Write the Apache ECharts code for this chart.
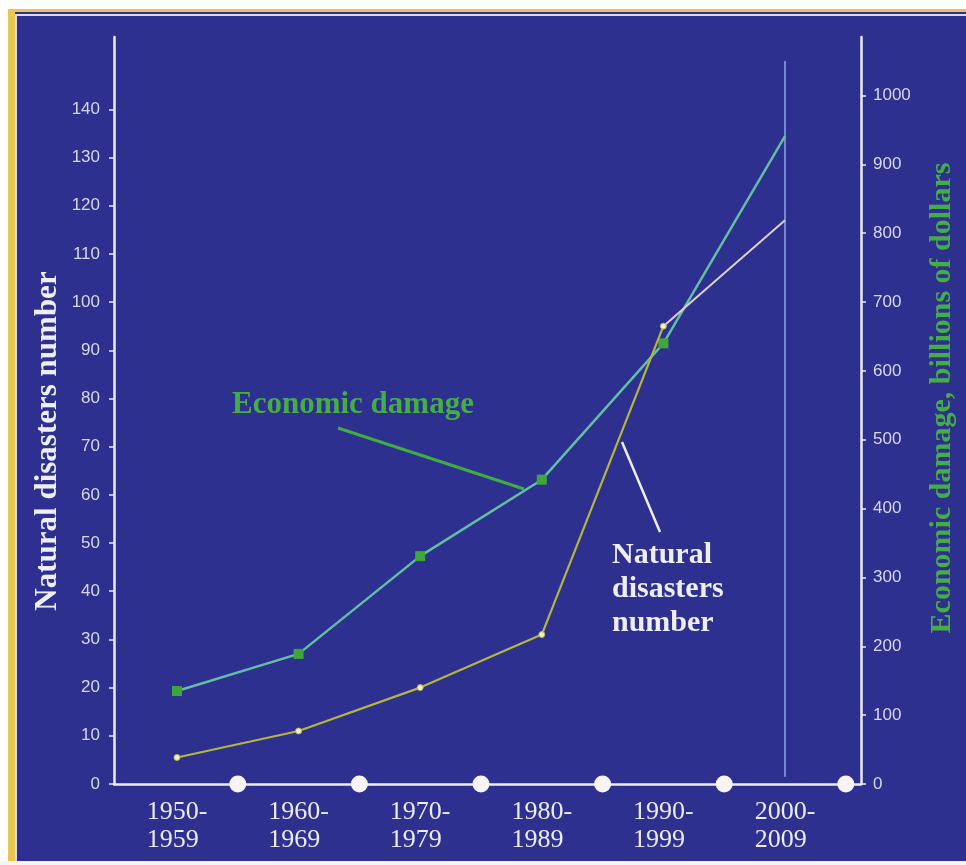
<!DOCTYPE html>
<html>
<head>
<meta charset="utf-8">
<script src="https://cdn.jsdelivr.net/npm/echarts@6/dist/echarts.min.js"></script>
<style>html,body{margin:0;padding:0;background:#fff}#c{width:966px;height:865px}</style>
</head>
<body>
<div id="c"></div>
<script>
// ---- data ----
var decades = ['1950-\n1959', '1960-\n1969', '1970-\n1979', '1980-\n1989', '1990-\n1999', '2000-\n2009'];
var disastersNumber = [5.5, 11, 20, 31, 95, 117];          // left axis
var economicDamage = [135, 189, 331, 442, 640, 941];       // right axis, billions of dollars
var leftTicks = [0, 10, 20, 30, 40, 50, 60, 70, 80, 90, 100, 110, 120, 130, 140];
var rightTicks = [0, 100, 200, 300, 400, 500, 600, 700, 800, 900, 1000];

var idx = decades.map(function (d, i) { return i; });
var serif = '"Liberation Serif", "Times New Roman", serif';
var sans = '"Liberation Sans", Arial, sans-serif';
var lastI = idx.length - 1;

var disasterPts = disastersNumber.map(function (v, i) { return [i, v]; });

var chart = echarts.init(document.getElementById('c'), null, { renderer: 'canvas' });

var option = {
  backgroundColor: '#2e3090',
  animation: false,
  grid: { left: 114, right: 105, top: 37, bottom: 81 },
  xAxis: {
    type: 'value',
    min: -0.518,
    max: 5.625,
    splitLine: { show: false },
    axisLine: { show: true, onZero: false, lineStyle: { color: '#ececf4', width: 2.5 } },
    axisTick: { show: false },
    axisLabel: {
      customValues: idx,
      margin: 14,
      formatter: function (v) {
        var parts = decades[Math.round(v)].split('\n');
        return '{a|' + parts[0] + '}\n{a|' + parts[1] + '}';
      },
      rich: {
        a: { fontFamily: serif, fontSize: 26, color: '#ececf0', lineHeight: 28, align: 'left' }
      }
    }
  },
  yAxis: [
    {
      type: 'value', min: 0, max: 155, position: 'left',
      splitLine: { show: false },
      axisLine: { show: true, onZero: false, lineStyle: { color: '#ececf4', width: 2.5 } },
      axisTick: { show: true, customValues: leftTicks, length: 5, lineStyle: { color: '#ececf4', width: 1.5 } },
      axisLabel: { customValues: leftTicks, color: '#d8d8ea', fontFamily: sans, fontSize: 17, margin: 14,
        formatter: function (v) { return String(v); } }
    },
    {
      type: 'value', min: 0, max: 1085, position: 'right',
      splitLine: { show: false },
      axisLine: { show: true, onZero: false, lineStyle: { color: '#ececf4', width: 2.5 } },
      axisTick: { show: true, customValues: rightTicks, length: 5, lineStyle: { color: '#ececf4', width: 1.5 } },
      axisLabel: { customValues: rightTicks, color: '#d8d8ea', fontFamily: sans, fontSize: 17, margin: 12,
        formatter: function (v) { return String(v); } }
    }
  ],
  series: [
    {
      name: 'Economic damage',
      type: 'line',
      yAxisIndex: 1,
      data: economicDamage.map(function (v, i) { return [i, v]; }),
      symbol: function (value, params) { return params.dataIndex === lastI ? 'none' : 'rect'; },
      symbolSize: 10,
      itemStyle: { color: '#3fa63c' },
      lineStyle: { color: '#62bea2', width: 2.5 },
      z: 3
    },
    {
      name: 'Natural disasters number',
      type: 'line',
      yAxisIndex: 0,
      data: disasterPts.slice(0, lastI),
      symbol: 'circle',
      symbolSize: 6,
      itemStyle: { color: '#f2eed6', borderColor: '#b3b63c', borderWidth: 1 },
      lineStyle: { color: '#b3b63c', width: 2.2 },
      z: 4
    },
    {
      name: 'Natural disasters number (last decade)',
      type: 'line',
      yAxisIndex: 0,
      data: disasterPts.slice(lastI - 1),
      showSymbol: false,
      symbol: 'none',
      lineStyle: { color: '#dcd2cc', width: 2 },
      z: 3
    },
    {
      name: 'boundaries',
      type: 'scatter',
      yAxisIndex: 0,
      data: idx.map(function (i) { return [i + 0.5, 0]; }),
      symbol: 'circle',
      symbolSize: 17,
      clip: false,
      itemStyle: { color: '#f6f4f4', opacity: 1 },
      z: 5
    },
    {
      name: 'last decade marker',
      type: 'line',
      yAxisIndex: 0,
      data: [[lastI, 1.5], [lastI, 150]],
      symbol: 'none',
      lineStyle: { color: '#8ea8ec', width: 1.5 },
      z: 2
    }
  ],
  graphic: [
    // scan frame
    { type: 'rect', shape: { x: 0, y: 0, width: 966, height: 9 }, style: { fill: '#ffffff' }, z: 100 },
    { type: 'rect', shape: { x: 0, y: 0, width: 8, height: 865 }, style: { fill: '#ffffff' }, z: 100 },
    { type: 'rect', shape: { x: 0, y: 861, width: 966, height: 4 }, style: { fill: '#f4f4f4' }, z: 100 },
    { type: 'rect', shape: { x: 8, y: 9, width: 958, height: 3 }, style: { fill: '#e6c35a' }, z: 100 },
    { type: 'rect', shape: { x: 8, y: 9, width: 7, height: 852 }, style: { fill: '#ebc552' }, z: 100 },
    { type: 'polyline', shape: { points: [[16, 861], [16, 15], [966, 15]] }, style: { stroke: '#d8daf0', lineWidth: 2, fill: null }, z: 100 },
    // axis titles
    {
      type: 'text', x: 48, y: 441, rotation: Math.PI / 2,
      style: { text: 'Natural disasters number', fill: '#eeeef6', font: 'bold 31px ' + serif, align: 'center', verticalAlign: 'middle' },
      z: 100
    },
    {
      type: 'text', x: 942, y: 398, rotation: Math.PI / 2,
      style: { text: 'Economic damage, billions of dollars', fill: '#46ad46', font: 'bold 30px ' + serif, align: 'center', verticalAlign: 'middle' },
      z: 100
    },
    // annotations
    {
      type: 'text', x: 232, y: 405,
      style: { text: 'Economic damage', fill: '#44ad44', font: 'bold 31px ' + serif, align: 'left', verticalAlign: 'middle' },
      z: 100
    },
    { type: 'line', shape: { x1: 338, y1: 428, x2: 524, y2: 489 }, style: { stroke: '#3fae3f', lineWidth: 3 }, z: 100 },
    {
      type: 'text', x: 612, y: 538,
      style: { text: 'Natural\ndisasters\nnumber', fill: '#eeeef4', font: 'bold 30px ' + serif, lineHeight: 34, align: 'left', verticalAlign: 'top' },
      z: 100
    },
    { type: 'line', shape: { x1: 622, y1: 442, x2: 660, y2: 532 }, style: { stroke: '#eeeef4', lineWidth: 2.5 }, z: 100 }
  ]
};

chart.setOption(option);
</script>
</body>
</html>
